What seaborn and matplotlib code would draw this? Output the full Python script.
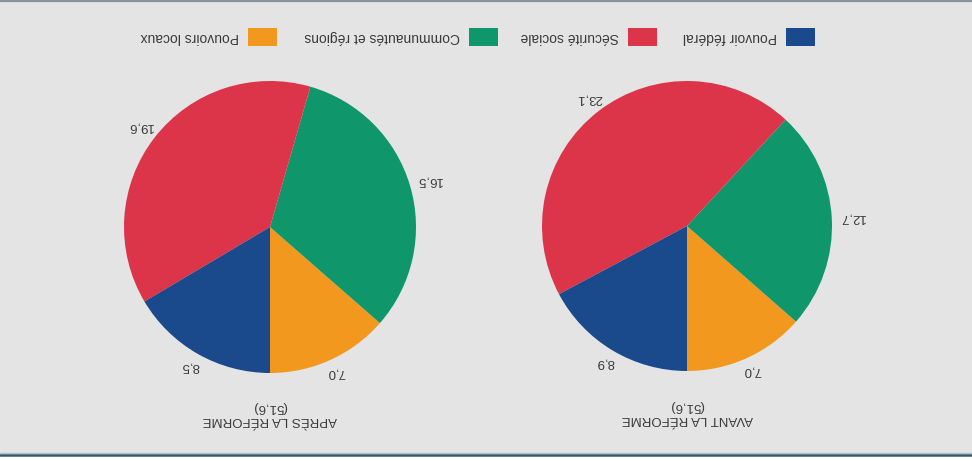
import numpy as np
import matplotlib
matplotlib.use("Agg")
import matplotlib.pyplot as plt
from matplotlib.patches import Rectangle
import seaborn as sns

# ---- data ----
categories = ["Pouvoir fédéral", "Sécurité sociale", "Communautés et régions", "Pouvoirs locaux"]
avant_values = [8.9, 23.1, 12.7, 7.0]
apres_values = [8.5, 19.6, 16.5, 7.0]
value_labels_avant = ["8,9", "23,1", "12,7", "7,0"]
value_labels_apres = ["8,5", "19,6", "16,5", "7,0"]
titles = ["AVANT LA RÉFORME", "APRÈS LA RÉFORME"]
totals = ["(51,6)", "(51,6)"]
colors = ["#1b4a8c", "#dc3549", "#0f966b", "#f2981f"]

sns.set_style("white")
plt.rcParams["font.family"] = ["Liberation Sans", "DejaVu Sans"]

W, H = 972, 461
BG = "#e4e4e4"
TXT = "#3a3a3a"
fig = plt.figure(figsize=(W / 100, H / 100), dpi=100)
fig.patch.set_facecolor("white")
ax = fig.add_axes([0, 0, 1, 1])

def Y(y_img):
    return H - y_img

# background panel
ax.add_patch(Rectangle((0, Y(454)), W, 454, facecolor=BG, edgecolor="none", zorder=0))
ax.plot([0, W], [Y(0.8), Y(0.8)], color="#8a939b", lw=1.6, zorder=1)
ax.plot([0, W], [Y(452.5), Y(452.5)], color="#a9c4d6", lw=1.0, zorder=1)
ax.plot([0, W], [Y(454.5), Y(454.5)], color="#3b5568", lw=1.8, zorder=1)

pal = sns.color_palette(colors)

def draw_pie(cx, cy, r, values, labels, title, total):
    order = list(range(len(values)))[::-1]
    vals = [values[i] for i in order]
    cols = [pal[i] for i in order]
    labs = [labels[i] for i in order]
    wedges, _ = ax.pie(vals, colors=cols, startangle=270, counterclock=True,
                       center=(cx, Y(cy)), radius=r,
                       wedgeprops=dict(linewidth=0, antialiased=True), frame=True)
    for w, lab in zip(wedges, labs):
        th = np.deg2rad((w.theta1 + w.theta2) / 2)
        d = r * (1.06 + 0.08 * abs(np.cos(th)))
        ax.text(cx + d * np.cos(th), Y(cy) + d * np.sin(th), lab, rotation=180,
                ha="center", va="center", fontsize=9.5, color=TXT)
    ax.text(cx, Y(cy + 193), title, rotation=180, ha="center", va="center",
            fontsize=9.5, color=TXT)
    ax.text(cx, Y(cy + 180), total, rotation=180, ha="center", va="center",
            fontsize=9.5, color=TXT)

draw_pie(687, 226, 145, avant_values, value_labels_avant, titles[0], totals[0])
draw_pie(270, 227, 146, apres_values, value_labels_apres, titles[1], totals[1])
ax.set_xlim(0, W)
ax.set_ylim(0, H)
ax.set_aspect("equal")
ax.axis("off")

# legend (rotated 180 like the rest)
box_left = [786, 628, 469, 248]
for i, cat in enumerate(categories):
    ax.add_patch(Rectangle((box_left[i], Y(46)), 29, 18, facecolor=pal[i],
                           edgecolor="none", zorder=3))
    ax.text(box_left[i] - 9, Y(37.5), cat, rotation=180, ha="right", va="center",
            fontsize=10, color=TXT)

fig.savefig("out.png", dpi=100, facecolor=fig.get_facecolor())
